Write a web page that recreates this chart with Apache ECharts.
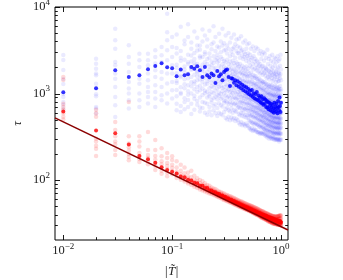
<!DOCTYPE html>
<html><head><meta charset="utf-8">
<script src="https://cdn.jsdelivr.net/npm/echarts@6/dist/echarts.min.js"></script>
<style>html,body{margin:0;padding:0;background:#fff}#c{width:343px;height:280px}</style>
</head><body><div id="c"></div>
<script>
const xCols = [0.01,0.02,0.03,0.04,0.05,0.06,0.07,0.08,0.09,0.10,
0.11,0.12,0.13,0.14,0.15,0.16,0.17,0.18,0.19,0.20,
0.21,0.22,0.23,0.24,0.25,0.26,0.27,0.28,0.29,0.30,
0.31,0.32,0.33,0.34,0.35,0.36,0.37,0.38,0.39,0.40,
0.41,0.42,0.43,0.44,0.45,0.46,0.47,0.48,0.49,0.50,
0.51,0.52,0.53,0.54,0.55,0.56,0.57,0.58,0.59,0.60,
0.61,0.62,0.63,0.64,0.65,0.66,0.67,0.68,0.69,0.70,
0.71,0.72,0.73,0.74,0.75,0.76,0.77,0.78,0.79,0.80,
0.81,0.82,0.83,0.84,0.85,0.86,0.87,0.88,0.89,0.90,
0.91,0.92,0.93,0.94,0.95,0.96,0.97,0.98,0.99,1.00];

const blueMean = [1035,1150,1860,1555,1625,1910,2085,2240,2010,1960,
1585,1890,1626,1670,2030,1940,2065,1860,1555,2030,
1626,1540,1700,1626,1325,1825,1585,1670,1425,1775,
1860,1890,1555,1225,1500,1480,1330,1420,1250,1390,
1200,1320,1150,1260,1100,1210,1060,1180,1020,1130,
980,1080,950,1100,920,1010,880,990,860,1040,
840,950,820,900,790,930,770,860,740,880,
760,850,700,820,690,800,660,780,720,640,
760,690,620,740,670,600,780,650,710,620,
760,680,590,820,700,640,900,720,610,780];

const redMean = [618,373,348,257,190,174,159,141,131,125,
119,110,108,101,99,93,92,86,86,81,
81,76.5,76,72.8,72.5,69.4,69.2,66.3,66.2,63.6,
63.6,61.2,61.3,59.0,59.1,57.0,57.2,55.3,55.4,53.6,
53.8,52.0,52.3,50.6,50.9,49.3,49.6,48.0,48.4,46.9,
47.3,45.9,46.2,44.9,45.2,44.0,44.3,43.1,43.4,42.2,
42.6,41.4,41.8,40.7,41.1,40.0,40.4,39.3,39.8,38.7,
39.2,38.1,38.6,37.5,38.0,37.0,37.5,36.5,37.0,36.0,
36.6,35.5,36.1,35.1,35.7,34.7,35.3,34.3,34.9,33.9,
34.5,33.5,34.2,33.2,33.8,32.9,33.5,32.6,33.2,32.4];

const blueCloud = [
[2790,2445,1875,1475,1290,990,914,800,738,664],
[2530,2213,1940,1700,1626,1300,1140,982,931,700,670,587],
[5620,4120,3300,2317,2120,1700,1486,1190,914,733,537],
[3610,2650,2213,1775,1360,1140,998,837,670],
[2890,2426,2030,1486,1300,998,837,700],
[2890,2421,2120,1700,1423,1192,1043,914,765],
[3162,2648,2218,1857,1556,1246,1043,875,700],
[3452,2768,2318,1775,1486,1192,955,836],
[8380,5120,4120,3162,2421,1700,1303,999,765],
[4508,3452,2648,2120,1700,1362,1091,875],
[4800,3350,2900,2150,1980,1720,1400,1320,1100,930,760,640],
[5900,3100,2600,2400,1850,1600,1540,1180,1020,990,720,610],
[4100,3700,2450,2050,1900,1750,1460,1280,1150,880,800,660],
[6300,4500,2800,2300,2200,1700,1500,1250,1060,970,840,700],
[3900,3300,2750,2350,1950,1880,1550,1350,1210,1000,760,580],
[5200,2950,2500,2250,2100,1650,1380,1300,1120,940,870,650],
[4400,3600,3150,2200,1800,1760,1580,1420,1190,1050,820,740],
[3600,3200,2700,2600,2000,1620,1450,1230,1090,900,690,620],
[5500,4000,2650,2150,1900,1820,1480,1360,1140,960,800,680],
[4700,3000,2850,2300,2080,1690,1520,1270,1080,1010,780,600],
[4200,3500,2500,2200,1780,1600,1390,1300,1050,900,760,570],
[5300,2900,2600,2050,1880,1520,1450,1150,980,930,700,620],
[3700,3250,2350,2120,1700,1650,1330,1210,1040,850,790,560],
[6000,3900,2700,2250,1950,1560,1410,1180,1010,880,720,640],
[4500,3100,2450,1990,1820,1620,1360,1260,1080,920,750,590],
[3500,2800,2550,2300,1750,1480,1300,1140,960,860,680,550],
[4900,3400,2400,2100,1850,1580,1420,1200,1030,940,770,600],
[4000,3000,2650,2000,1720,1640,1350,1230,990,870,730,580],
[5600,3600,2500,2180,1790,1510,1380,1160,1060,900,710,560],
[3800,3150,2380,2060,1900,1600,1440,1190,1000,830,780,610],
[4700,3200,2300,1950,1700,1480,1290,1100,950,820,660,520],
[3600,2900,2450,1820,1640,1420,1240,1060,900,790,690,500],
[5000,3300,2200,2000,1580,1500,1200,1120,930,760,640,540],
[3900,2700,2350,1880,1720,1380,1270,1040,880,800,620,490],
[4400,3050,2150,1930,1600,1450,1180,1080,960,740,670,530],
[3300,2800,2400,1800,1660,1400,1230,1010,870,780,600,500],
[4800,3400,2250,1900,1560,1460,1210,1090,910,750,650,520],
[3700,2600,2100,1850,1690,1350,1160,1030,890,770,630,480],
[4200,3100,2300,1760,1620,1410,1250,990,860,730,610,510],
[3500,2950,2200,1980,1530,1370,1190,1050,900,760,680,490],
[4300,2900,2050,1800,1500,1300,1120,960,840,700,580,460],
[3400,2600,2200,1700,1450,1250,1080,980,790,680,560,440],
[4600,3100,1950,1750,1380,1280,1040,920,810,720,600,470],
[3200,2750,2100,1650,1470,1220,1100,900,780,650,550,430],
[3900,2500,1900,1720,1400,1190,1060,950,820,690,590,450],
[3000,2650,2000,1600,1350,1240,1020,880,760,660,540,440],
[4100,2850,1850,1680,1420,1170,990,930,800,670,570,420],
[3300,2400,2050,1620,1330,1200,1050,870,750,640,530,450],
[3700,2700,1800,1550,1390,1150,970,900,770,680,560,430],
[2900,2550,1950,1580,1300,1180,1000,860,740,630,520,420],
[3800,2300,1700,1350,1150,1000,900,780,680,580,490,400],
[2800,2100,1600,1420,1100,980,850,760,640,560,470,390],
[3300,2450,1750,1300,1180,940,870,720,660,550,480,380],
[2600,2000,1550,1380,1080,990,830,740,620,570,460,400],
[3500,2200,1650,1280,1120,920,860,700,650,540,450,370],
[2700,1900,1500,1330,1050,960,810,730,610,530,470,380],
[3100,2350,1600,1250,1140,930,840,690,630,550,440,390],
[2500,1950,1520,1310,1070,900,820,710,600,520,460,370],
[3400,2150,1580,1240,1100,950,800,680,620,540,450,380],
[2400,1850,1480,1290,1030,910,790,700,590,510,440,360],
[3300,2000,1450,1200,1000,880,780,680,590,520,440,360],
[2300,1800,1380,1150,960,850,740,650,570,500,430,350],
[2900,2100,1500,1220,980,870,760,670,580,490,420,360],
[2200,1700,1350,1120,940,830,720,640,560,480,410,340],
[3100,1950,1420,1180,990,860,750,660,550,500,430,350],
[2500,1750,1300,1100,920,820,710,630,540,470,400,350],
[2800,2050,1400,1160,970,850,740,620,560,490,420,340],
[2100,1650,1330,1080,930,800,700,640,550,480,410,360],
[3000,1900,1360,1140,950,840,730,610,530,470,400,340],
[2400,1720,1280,1090,910,810,690,600,540,460,390,350],
[2900,1800,1350,1050,900,790,680,600,530,460,390,330],
[2000,1600,1200,1000,860,740,650,570,500,440,380,340],
[2600,1950,1300,1090,880,770,700,610,520,450,400,320],
[1900,1500,1250,980,840,760,640,580,510,430,370,330],
[3200,1700,1150,1020,870,730,670,560,490,440,380,310],
[2200,1550,1280,960,820,750,630,590,500,420,360,330],
[2500,1850,1180,1040,890,720,660,550,480,450,370,320],
[1800,1450,1220,990,830,780,620,570,510,430,390,300],
[2700,1650,1130,1010,850,710,650,560,470,420,360,320],
[2100,1580,1260,950,810,740,610,540,490,440,380,310],
[2400,1750,1200,1000,860,720,640,560,480,420,360,310],
[1900,1500,1100,950,800,700,620,540,470,410,350,300],
[2800,1650,1250,970,840,730,600,550,490,430,370,320],
[2000,1400,1150,930,790,690,630,530,460,400,350,300],
[2300,1800,1080,980,820,710,610,520,470,420,360,310],
[1700,1450,1180,940,780,680,590,540,480,410,340,300],
[2600,1600,1120,960,850,700,620,530,450,400,350,290],
[2100,1550,1230,900,770,670,600,510,460,390,360,310],
[2500,1700,1050,920,810,720,580,520,470,410,340,300],
[1800,1350,1140,990,800,690,610,540,450,400,350,290],
[2300,1650,1200,950,820,700,600,530,470,410,350,300],
[1900,1450,1100,900,780,680,590,510,450,400,340,290],
[2700,1550,1150,980,800,710,620,540,460,390,360,300],
[2000,1380,1060,920,760,660,580,520,440,400,340,290],
[2400,1750,1180,940,830,690,610,500,460,410,350,300],
[1700,1400,1090,880,770,670,570,510,450,380,330,280],
[2500,1600,1130,960,790,700,600,530,470,400,350,290],
[2100,1500,1220,910,750,650,590,500,440,390,340,290],
[2800,1680,1070,930,810,680,580,520,460,410,350,300],
[1900,1420,1120,970,780,660,600,510,450,400,340,290]];

const redCloud = [
[1550,1430,760,700,650,590,540,500],
[650,590,540,300,280,250,230,190],
[470,380,320,280,260,223,195],
[800,320,265,240,220,200,185,170],
[320,280,245,205,190,175,162],
[360,223,195,180,165,152],
[291,223,190,172,158,145,131],
[233,188,165,152,140,128,118],
[205,180,158,145,133,122,111],
[188,171,150,139,127,117],
[165,140,125,118,112,106],
[150,128,117,111,106,101],
[140,120,110,105,100,96],
[122,110,104,99,95,91],
[128,108,100,96,92,88],
[112,100,95,91,88,84],
[105,96,92,88,85,81],
[100,92,88,85,82,78],
[97,89,86,82,79,76],
[92,86,83,80,77,74],
[88,83,80,78,75,72],
[86,81,78,76,73,70],
[82,78,76,74,71,69],
[80,76,74,72,70,67],
[79,74,72,70,68,66],
[76,72,70,68,66,64],
[74,71,69,67,65,63],
[73,69,67,65,64,62],
[71,68,66,64,62,60],
[70,66,64.5,63,61,59],
[68,65,63,61.5,60,58],
[67,64,62,60.5,59,57],
[66,63,61,59.5,58,56],
[65,62,60,58.5,57,55],
[64,61,59,57.5,56,54.5],
[63,60,58,56.5,55,53.5],
[62,59,57,55.5,54,52.5],
[61,58,56,54.5,53,52],
[60,57,55,54,52.5,51],
[59,56,54.5,53,52,50.5],
[58,55.5,53.5,52.5,51,49.5],
[57,54.5,53,51.5,50.5,49],
[56.5,54,52,51,49.5,48.5],
[56,53,51.5,50.5,49,48],
[55,52.5,51,49.5,48.5,47],
[54.5,52,50,49,48,46.5],
[54,51,49.5,48.5,47,46],
[53,50.5,49,48,46.5,45.5],
[52.5,50,48.5,47.5,46,45],
[52,49.5,48,47,45.5,44.5],
[51.5,49,47.5,46.5,45,44],
[51,48.5,47,46,44.5,43.5],
[50.5,48,46.5,45.5,44,43],
[50,47.5,46,45,43.5,42.5],
[49.5,47,45.5,44.5,43,42],
[49,46.5,45,44,42.5,41.5],
[48.5,46,44.5,43.5,42,41],
[48,45.5,44,43,41.5,40.5],
[47.5,45,43.5,42.5,41,40],
[47,44.5,43,42,40.5,39.5],
[46.5,44,42.5,41.5,40.5,39.5],
[46,43.5,42,41,40,39],
[45.5,43,41.5,40.5,39.5,38.5],
[45,42.5,41,40,39,38],
[44.5,42,40.5,39.5,38.5,37.5],
[44,41.5,40,39,38,37],
[43.5,41,39.5,38.5,37.5,36.5],
[43.5,41,39.5,38.5,37.5,36.5],
[43,40.5,39,38,37,36],
[42.5,40,38.5,37.5,36.5,35.5],
[42,39.5,38.5,37.5,36.5,35.5],
[42,39.5,38,37,36,35],
[41.5,39,37.5,36.5,35.5,34.5],
[41,38.5,37.5,36.5,35.5,34.5],
[41,38.5,37,36,35,34],
[40.5,38,36.5,35.5,34.5,33.5],
[40,38,36.5,35.5,34.5,33.5],
[40,37.5,36,35,34,33],
[39.5,37.5,36,35,34,33],
[39.5,37,35.5,34.5,33.5,32.5],
[39,37,35.5,34.5,33.5,32.5],
[39,36.5,35,34,33,32],
[38.5,36.5,35,34,33,32],
[38.5,36,34.5,33.5,32.5,31.5],
[38.5,36,34.5,33.5,32.5,31.5],
[38,36,34.5,33.5,32.5,31.5],
[38,35.5,34,33,32,31],
[38,35.5,34,33,32,31],
[38,35.5,34,33,32,31],
[38,35.5,34,33,32,31],
[38,35.5,34,33,32,31],
[38,35.5,34,32.5,31.5,30.5],
[38,35.5,34,32.5,31.5,30.5],
[38.5,35.5,34,32.5,31.5,30.5],
[38.5,35.5,33.5,32.5,31.5,30.5],
[38.5,35.5,33.5,32.5,31.5,30.5],
[39,36,33.5,32.5,31.5,30.5],
[39,36,33.5,32,31,30],
[39,36,33.5,32,31,30],
[39,36,33.5,32,31,30]];

const fitX = [0.00839, 1.16];
const fitY = [523, 26.5];

const xRange = [0.00839, 1.16];
const yRange = [20.3, 10000];
const xMajor = [0.01, 0.1, 1];
const xMajorExp = ['\u22122', '\u22121', '0'];
const xMinor = [0.02,0.03,0.04,0.05,0.06,0.07,0.08,0.09,0.2,0.3,0.4,0.5,0.6,0.7,0.8,0.9];
const yMajor = [100, 1000, 10000];
const yMajorExp = ['2', '3', '4'];
const yMinor = [30,40,50,60,70,80,90,200,300,400,500,600,700,800,900,2000,3000,4000,5000,6000,7000,8000,9000];
const xLabel = '|T\u0303|';
const yLabel = '\u03c4';

const FONT = 'Liberation Serif';
const chart = echarts.init(document.getElementById('c'), null, {renderer: 'canvas'});

function pairs(cloud) {
  const out = [];
  xCols.forEach((x, i) => cloud[i].forEach(v => out.push([x, v])));
  return out;
}
const hidden = {axisLine:{show:false}, axisTick:{show:false}, axisLabel:{show:false}, splitLine:{show:false}};

chart.setOption({
  animation: false,
  grid: {left: 55, right: 55, top: 7, bottom: 40, show: true, borderColor: '#000', borderWidth: 1, backgroundColor: 'rgba(0,0,0,0)'},
  xAxis: Object.assign({type: 'log', logBase: 10, min: xRange[0], max: xRange[1]}, hidden),
  yAxis: Object.assign({type: 'log', logBase: 10, min: yRange[0], max: yRange[1]}, hidden),
  series: [
    {type: 'scatter', data: pairs(blueCloud), symbolSize: 4.5, progressive: 0,
     itemStyle: {color: 'rgba(0,0,255,0.10)'}, silent: true, z: 1},
    {type: 'scatter', data: pairs(redCloud), symbolSize: 4.5, progressive: 0,
     itemStyle: {color: 'rgba(255,0,0,0.18)'}, silent: true, z: 2},
    {type: 'scatter', data: xCols.map((x, i) => [x, blueMean[i]]), symbolSize: 4, progressive: 0,
     itemStyle: {color: '#0000ff'}, silent: true, z: 3},
    {type: 'scatter', data: xCols.map((x, i) => [x, redMean[i]]), symbolSize: 4, progressive: 0,
     itemStyle: {color: '#ff0000'}, silent: true, z: 4},
    {type: 'line', data: fitX.map((x, i) => [x, fitY[i]]), showSymbol: false, symbol: 'none',
     lineStyle: {color: '#8b0000', width: 1.5}, silent: true, z: 5}
  ]
});

function px(x, y) { return chart.convertToPixel({gridIndex: 0}, [x, y]); }
const g = [];
const L = px(xRange[0], yRange[0])[0], B = px(xRange[0], yRange[0])[1];
const R = px(xRange[1], yRange[1])[0], T = px(xRange[1], yRange[1])[1];
function tick(x1, y1, x2, y2) {
  g.push({type: 'line', shape: {x1, y1, x2, y2}, style: {stroke: '#000', lineWidth: 0.9}, z: 100});
}
xMajor.forEach(v => { const x = Math.round(px(v, yRange[0])[0]) + 0.5; tick(x, B, x, B - 5); tick(x, T, x, T + 5); });
xMinor.forEach(v => { const x = Math.round(px(v, yRange[0])[0]) + 0.5; tick(x, B, x, B - 2.8); tick(x, T, x, T + 2.8); });
yMajor.forEach(v => { const y = Math.round(px(xRange[0], v)[1]) + 0.5; tick(L, y, L + 5, y); tick(R, y, R - 5, y); });
yMinor.forEach(v => { const y = Math.round(px(xRange[0], v)[1]) + 0.5; tick(L, y, L + 2.8, y); tick(R, y, R - 2.8, y); });

const rich = {
  a: {fontSize: 12.5, fontFamily: FONT, fill: '#222', lineHeight: 18},
  b: {fontSize: 9, fontFamily: FONT, fill: '#222', lineHeight: 9, verticalAlign: 'top'}
};
xMajor.forEach((v, i) => {
  const x = px(v, yRange[0])[0];
  g.push({type: 'text', x: x, y: B + 2, z: 100,
    style: {text: '{a|10}{b|' + xMajorExp[i] + '}', rich: rich, align: 'center', verticalAlign: 'top'}});
});
yMajor.forEach((v, i) => {
  const y = px(xRange[0], v)[1];
  g.push({type: 'text', x: L - 5, y: y, z: 100,
    style: {text: '{a|10}{b|' + yMajorExp[i] + '}', rich: rich, align: 'right', verticalAlign: 'middle'}});
});
g.push({type: 'text', x: (L + R) / 2, y: 272, z: 100,
  style: {text: xLabel, font: 'italic 13px ' + FONT, fill: '#222', align: 'center', verticalAlign: 'middle'}});
g.push({type: 'text', x: 18, y: (T + B) / 2, rotation: Math.PI / 2, z: 100,
  style: {text: yLabel, font: 'italic 13px ' + FONT, fill: '#222', align: 'center', verticalAlign: 'middle'}});
chart.setOption({graphic: g});
</script>
</body></html>
